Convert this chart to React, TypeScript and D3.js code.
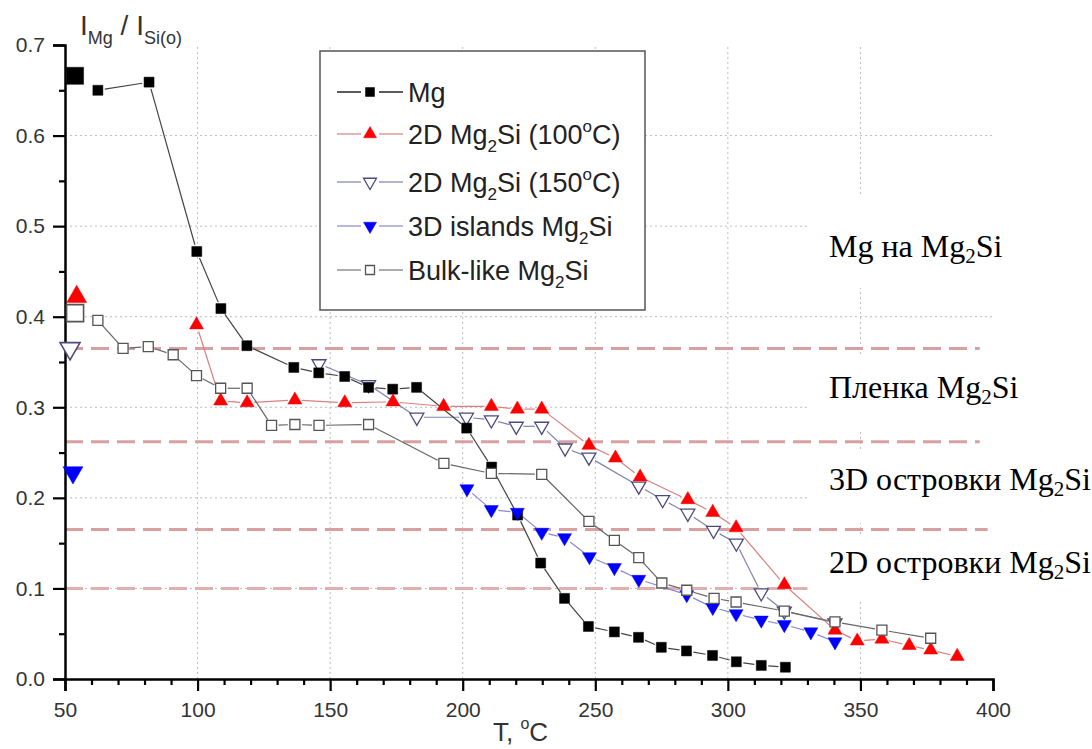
import React, { useEffect, useRef } from 'react';
import * as d3 from 'd3';

// axis ticks
const xTicks = [50, 100, 150, 200, 250, 300, 350, 400];
const xMinor = [60, 70, 80, 90, 110, 120, 130, 140, 160, 170, 180, 190, 210, 220, 230, 240, 260, 270, 280, 290, 310, 320, 330, 340, 360, 370, 380, 390];
const yTicks = [0, 0.1, 0.2, 0.3, 0.4, 0.5, 0.6, 0.7];
const yMinor = [0.05, 0.15, 0.25, 0.35, 0.45, 0.55, 0.65];

// Mg
const mgT = [62.4, 81.7, 99.7, 108.8, 118.6, 136.3, 145.7, 155.5, 164.5, 173.6, 182.6, 201.5, 210.9, 220.7, 229.4, 238.4, 247.4, 257.2, 266.3, 274.9, 284.4, 294.2, 303.2, 312.6, 321.7];
const mgV = [0.650, 0.659, 0.472, 0.409, 0.368, 0.344, 0.338, 0.334, 0.322, 0.320, 0.322, 0.277, 0.234, 0.181, 0.128, 0.089, 0.058, 0.052, 0.046, 0.035, 0.031, 0.026, 0.019, 0.015, 0.013];

// 2D Mg2Si (100 C)
const r100T = [99.6, 108.7, 118.7, 136.7, 155.5, 173.7, 192.8, 210.8, 220.6, 229.8, 247.6, 257.6, 266.9, 284.9, 294.3, 303.1, 321.3, 340.4, 348.8, 358.1, 368.4, 376.5, 386.5];
const r100V = [0.391, 0.307, 0.305, 0.308, 0.305, 0.306, 0.301, 0.301, 0.298, 0.298, 0.258, 0.244, 0.223, 0.198, 0.184, 0.167, 0.104, 0.054, 0.042, 0.044, 0.037, 0.032, 0.025];

// 2D Mg2Si (150 C)
const r150T = [145.8, 164.5, 182.7, 201.4, 210.8, 220.2, 229.8, 238.6, 247.6, 266.4, 275.4, 284.9, 294.6, 303.2, 312.6, 321.3, 340.4];
const r150V = [0.348, 0.325, 0.289, 0.289, 0.286, 0.279, 0.279, 0.255, 0.245, 0.213, 0.198, 0.183, 0.164, 0.150, 0.095, 0.075, 0.062];

// 3D islands Mg2Si
const islT = [201.6, 210.8, 220.6, 229.8, 238.4, 247.8, 257.2, 266.4, 284.5, 294.3, 303.1, 312.6, 321.3, 331.3, 340.4];
const islV = [0.210, 0.187, 0.184, 0.162, 0.156, 0.135, 0.123, 0.110, 0.093, 0.079, 0.072, 0.065, 0.060, 0.052, 0.041];

// Bulk-like Mg2Si
const bulkT = [62.4, 71.9, 81.4, 90.8, 99.6, 108.7, 118.7, 127.9, 136.7, 145.8, 164.5, 192.9, 210.8, 229.8, 247.6, 257.2, 266.4, 275.1, 284.5, 294.8, 303.1, 321.3, 340.4, 358.1, 376.5];
const bulkV = [0.396, 0.365, 0.367, 0.358, 0.335, 0.321, 0.321, 0.280, 0.281, 0.280, 0.281, 0.238, 0.227, 0.226, 0.174, 0.153, 0.134, 0.106, 0.098, 0.089, 0.085, 0.075, 0.063, 0.054, 0.045];

// first (reference) point of each series, drawn large and unconnected
const startT = [53.8, 54.4, 51.9, 53.0, 53.8];
const startV = [0.666, 0.422, 0.365, 0.228, 0.404];

// dashed threshold levels and where they stop (in T)
const levels = [0.365, 0.262, 0.165, 0.1];
const levelEnds = [395, 395, 398, 330];

// region labels on the right
const regionNames = [['Mg на Mg', 'Si'], ['Пленка Mg', 'Si'], ['3D островки Mg', 'Si'], ['2D островки Mg', 'Si']];
const regionV = [0.466, 0.31, 0.209, 0.117];

const SANS = "Arial, 'Liberation Sans', sans-serif";
const SERIF = "'Times New Roman', 'Liberation Serif', serif";

export default function App() {
    const svgRef = useRef(null);

    useEffect(() => {
        const svg = d3.select(svgRef.current);
        svg.selectAll('*').remove();

        const x = d3.scaleLinear().domain([50, 400]).range([65, 993]);
        const y = d3.scaleLinear().domain([0, 0.7]).range([679, 45]);

        const series = [
            { T: r150T, V: r150V, shape: 'down', fill: '#fff', stroke: '#4a4a80', line: '#8080b0' },
            { T: mgT, V: mgV, shape: 'square', fill: '#000', stroke: '#000', line: '#444' },
            { T: r100T, V: r100V, shape: 'up', fill: '#f00', stroke: '#f00', line: '#d88080' },
            { T: islT, V: islV, shape: 'down', fill: '#0000ff', stroke: '#0000ff', line: '#8888d0' },
            { T: bulkT, V: bulkV, shape: 'square', fill: '#fff', stroke: '#555', line: '#666' },
        ];
        const legendOrder = [1, 2, 0, 3, 4].map(i => series[i]);
        const legendLine = ['#333', '#e0a0a0', '#a0a0c0', '#a8a8d8', '#999'];

        const marker = (g, shape, cx, cy, s, fill, stroke, sw = 1.3) => {
            let p;
            if (shape === 'square') p = d3.symbol(d3.symbolSquare, s * s)();
            else p = d3.symbol(d3.symbolTriangle, s * s * Math.sqrt(3) / 4)();
            g.append('path')
                .attr('d', p)
                .attr('transform', `translate(${cx},${cy})${shape === 'down' ? ' rotate(180)' : ''}`)
                .attr('fill', fill)
                .attr('stroke', stroke)
                .attr('stroke-width', fill === '#fff' ? sw : 0.5);
        };

        // Grid
        const grid = svg.append('g').attr('stroke', '#bdbdbd').attr('stroke-dasharray', '2,3').attr('stroke-width', 1);
        grid.selectAll('.gx').data(xTicks.slice(1, -1)).join('line')
            .attr('x1', d => x(d)).attr('x2', d => x(d)).attr('y1', y(0)).attr('y2', y(0.7));
        grid.selectAll('.gy').data(yTicks.slice(1, -1)).join('line')
            .attr('x1', x(50)).attr('x2', x(400)).attr('y1', d => y(d)).attr('y2', d => y(d));

        // white patches behind region labels
        [[195, 288], [357, 430], [450, 523], [537, 600]].forEach(([a, b]) => {
            svg.append('rect').attr('x', 808).attr('y', a).attr('width', 284).attr('height', b - a).attr('fill', '#fff');
        });

        // Threshold dashed lines
        svg.append('g').selectAll('line').data(levels).join('line')
            .attr('x1', x(50)).attr('x2', (d, i) => x(levelEnds[i]))
            .attr('y1', d => y(d)).attr('y2', d => y(d))
            .attr('stroke', (d, i) => i === 3 ? '#e0b0b0' : '#d8a0a0')
            .attr('stroke-width', 3)
            .attr('stroke-dasharray', '18,8');

        // Axes
        const axisText = g => g.selectAll('text')
            .attr('font-family', SANS).attr('font-size', 21).attr('fill', '#333');
        const tickStyle = g => g.selectAll('line').attr('stroke', '#000').attr('stroke-width', 2.2);
        svg.append('g').attr('transform', `translate(${x(50)},0)`)
            .call(d3.axisLeft(y).tickValues(yTicks).tickSize(12).tickPadding(8).tickFormat(d3.format('.1f')))
            .call(g => g.select('.domain').attr('stroke', '#000').attr('stroke-width', 2.5))
            .call(tickStyle)
            .call(axisText);
        svg.append('g').attr('transform', `translate(${x(50)},0)`)
            .call(d3.axisLeft(y).tickValues(yMinor).tickSize(6).tickFormat(() => ''))
            .call(g => g.select('.domain').remove())
            .call(tickStyle);
        svg.append('g').attr('transform', `translate(0,${y(0)})`)
            .call(d3.axisBottom(x).tickValues(xTicks).tickSize(12).tickPadding(11))
            .call(g => g.select('.domain').attr('stroke', '#000').attr('stroke-width', 2.5))
            .call(tickStyle)
            .call(axisText);
        svg.append('g').attr('transform', `translate(0,${y(0)})`)
            .call(d3.axisBottom(x).tickValues(xMinor).tickSize(6).tickFormat(() => ''))
            .call(g => g.select('.domain').remove())
            .call(tickStyle);

        // Series lines (with small gaps around markers)
        const gap = 7;
        series.forEach(s => {
            const pts = s.T.map((t, i) => [x(t), y(s.V[i])]);
            const g = svg.append('g');
            d3.pairs(pts).forEach(([a, b]) => {
                const dx = b[0] - a[0], dy = b[1] - a[1];
                const len = Math.hypot(dx, dy);
                if (len <= 2 * gap) return;
                const ux = dx / len, uy = dy / len;
                g.append('line')
                    .attr('x1', a[0] + ux * gap).attr('y1', a[1] + uy * gap)
                    .attr('x2', b[0] - ux * gap).attr('y2', b[1] - uy * gap)
                    .attr('stroke', s.line).attr('stroke-width', 1.2);
            });
        });

        // Markers
        series.forEach(s => {
            const g = svg.append('g');
            const size = s.shape === 'square' ? 10 : 14;
            s.T.forEach((t, i) => marker(g, s.shape, x(t), y(s.V[i]), size, s.fill, s.stroke));
        });

        // Big start markers
        legendOrder.forEach((s, i) => {
            const size = s.shape === 'square' ? 17 : 20;
            marker(svg, s.shape, x(startT[i]), y(startV[i]), size, s.fill, s.stroke, 1.6);
        });

        // Legend
        const lg = svg.append('g');
        lg.append('rect').attr('x', 320).attr('y', 51).attr('width', 325).attr('height', 259)
            .attr('fill', '#fff').attr('stroke', '#555').attr('stroke-width', 1.5);
        const rowsY = [92, 134, 182, 226, 270];
        const legendLabels = [
            [['Mg', 0]],
            [['2D Mg', 0], ['2', 1], ['Si (100', 0], ['o', 2], ['C)', 0]],
            [['2D Mg', 0], ['2', 1], ['Si (150', 0], ['o', 2], ['C)', 0]],
            [['3D islands Mg', 0], ['2', 1], ['Si', 0]],
            [['Bulk-like Mg', 0], ['2', 1], ['Si', 0]],
        ];
        legendOrder.forEach((s, i) => {
            const ry = rowsY[i];
            lg.append('line').attr('x1', 337).attr('x2', 361).attr('y1', ry).attr('y2', ry).attr('stroke', legendLine[i]).attr('stroke-width', 1.6);
            lg.append('line').attr('x1', 379).attr('x2', 403).attr('y1', ry).attr('y2', ry).attr('stroke', legendLine[i]).attr('stroke-width', 1.6);
            marker(lg, s.shape, 370, ry, s.shape === 'square' ? 9 : 13, s.fill, s.stroke);
            const t = lg.append('text').attr('x', 408).attr('y', ry + 10)
                .attr('font-family', SANS).attr('font-size', 27).attr('fill', '#222');
            let shift = 0;
            legendLabels[i].forEach(([txt, kind]) => {
                const target = kind === 0 ? 0 : kind === 1 ? 8 : -12;
                t.append('tspan').attr('dy', target - shift)
                    .attr('font-size', kind === 0 ? 27 : 17).text(txt);
                shift = target;
            });
        });

        // Region labels
        regionNames.forEach(([a, b], i) => {
            const t = svg.append('text').attr('x', 829).attr('y', y(regionV[i]))
                .attr('font-family', SERIF).attr('font-size', 32).attr('fill', '#000');
            t.append('tspan').text(a);
            t.append('tspan').attr('font-size', 21).attr('dy', 6).text('2');
            t.append('tspan').attr('dy', -6).text(b);
        });

        // Y label
        const yl = svg.append('text').attr('x', 80).attr('y', 35)
            .attr('font-family', SANS).attr('font-size', 28).attr('fill', '#333');
        yl.append('tspan').text('I');
        yl.append('tspan').attr('font-size', 18).attr('dy', 9).text('Mg');
        yl.append('tspan').attr('dy', -9).text(' / I');
        yl.append('tspan').attr('font-size', 18).attr('dy', 9).text('Si(o)');

        // X label
        const xl = svg.append('text').attr('x', 493).attr('y', 741)
            .attr('font-family', SANS).attr('font-size', 26).attr('fill', '#333');
        xl.append('tspan').text('T, ');
        xl.append('tspan').attr('font-size', 16).attr('dy', -12).text('o');
        xl.append('tspan').attr('dy', 12).text('C');
    }, []);

    return (
        <svg ref={svgRef} width={1092} height={749} viewBox="0 0 1092 749"
            style={{ position: 'absolute', left: 0, top: 0, background: '#fff' }} />
    );
}
